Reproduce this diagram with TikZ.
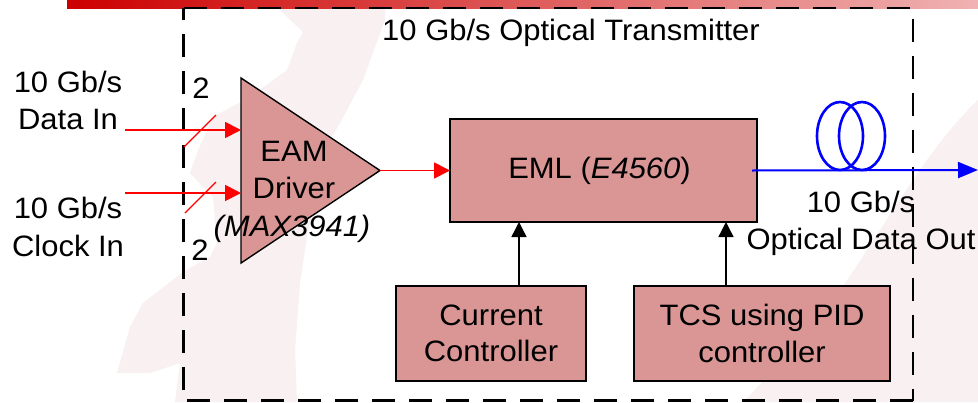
\documentclass[tikz,border=0pt]{standalone}
\usepackage{fontspec}
\setmainfont[FakeStretch=1.05]{Liberation Sans}
\usetikzlibrary{arrows.meta,shapes.geometric,calc}
\definecolor{blockfill}{HTML}{D99694}
\definecolor{wmark}{HTML}{F8F0F1}
\tikzset{
  lbl/.style={font=\fontsize{29.5}{37}\selectfont,inner sep=0pt,anchor=base,align=center,text=black},
  blockbox/.style={draw=black,line width=1.4pt,fill=blockfill,minimum width=0pt,inner sep=0pt,outer sep=0pt,align=center,font=\fontsize{29.5}{37}\selectfont},
  redarrow/.style={draw=red,line width=1.8pt,-{Triangle[length=16pt,width=16pt]}},
  blackarrow/.style={draw=black,line width=1.4pt,-{Triangle[length=15pt,width=15pt]}},
  slash/.style={draw=red,line width=1.2pt},
  loopcoil/.style={draw=blue,line width=2.6pt},
}
\begin{document}
\begin{tikzpicture}[x=1pt,y=-1pt]
\useasboundingbox (0,0) rectangle (978,402);
\fill[white] (0,0) rectangle (978,402);
% watermark
\fill[wmark] (278,8) -- (303,32) -- (297,43) -- (287,70) -- (250,97) -- (213,117)
  -- (197,153) -- (190,173) -- (213,197) -- (217,243) -- (210,257) -- (183,272)
  -- (143,303) -- (130,327) -- (117,373) -- (150,373) -- (180,363) -- (175,402)
  -- (297,402) -- (295,350) -- (300,283) -- (307,237) -- (330,140) -- (340,123)
  -- (363,80) -- (385,20) -- (385,8) -- cycle;
\fill[wmark] (978,100) .. controls (925,150) and (880,235) .. (840,290) .. controls (810,330) and (775,370) .. (743,402) -- (978,402) -- cycle;
% top bar
\shade[left color=red!80!black,right color=red!80!black!30!white] (67,0) rectangle (978,8);
% dashed enclosure
\coordinate (bxa) at (183.5,8);
\coordinate (bxb) at (913,400.5);
\draw[black,line width=2.8pt,dash pattern=on 23pt off 14pt] (bxb) -- (bxb -| bxa) -- (bxa);
\draw[black,line width=2.8pt,dash pattern=on 23pt off 14pt] (bxa) -- (bxa -| bxb) -- (bxb);
% blocks
\node[blockbox,isosceles triangle,isosceles triangle stretches,shape border rotate=0,
  minimum width=185pt,minimum height=139pt,anchor=apex] (drv) at (380,170.5) {};
\node[blockbox,minimum width=307pt,minimum height=103pt] (eml) at (603.5,170.5) {EML (\textit{E4560})\hspace*{8pt}};
\node[blockbox,minimum width=190pt,minimum height=95pt] (cur) at (491,333.5) {Current\\[-0.5pt]Controller};
\node[blockbox,minimum width=256pt,minimum height=95pt] (tcs) at (762,333.5) {TCS using PID\\[-0.5pt]controller};
% labels
\node[lbl] (title) at (571,40) {10 Gb/s Optical Transmitter};
\node[lbl] (l1a) at (68,92) {10 Gb/s};
\node[lbl] (l1b) at (68,129) {Data In};
\node[lbl] (l2a) at (68,218) {10 Gb/s};
\node[lbl] (l2b) at (68,256) {Clock In};
\node[lbl] (n1) at (201,98) {2};
\node[lbl] (n2) at (200,260) {2};
\node[lbl] (t1) at (294,161) {EAM};
\node[lbl] (t2) at (294,198) {Driver};
\node[lbl,font=\fontsize{29.5}{37}\selectfont\itshape] (t3) at (292,236) {(MAX3941)};
\node[lbl] (o1) at (861,212) {10 Gb/s};
\node[lbl] (o2) at (861,249) {Optical Data Out};
% connectors
\coordinate (i1) at (125,130);
\coordinate (i2) at (125,193);
\coordinate (e1) at (241,130);
\coordinate (e2) at (241,193);
\draw[redarrow] (i1) -- (e1);
\draw[redarrow] (i2) -- (e2);
\coordinate (s1a) at (184,147); \coordinate (s1b) at (216,115);
\coordinate (s2a) at (185,213); \coordinate (s2b) at (216,182);
\draw[slash] (s1a) -- (s1b);
\draw[slash] (s2a) -- (s2b);
\draw[redarrow] (drv.apex) -- (drv.apex -| eml.west);
\draw[blackarrow] (cur.north -| 519,0) -- (eml.south -| 519,0);
\draw[blackarrow] (tcs.north -| 726,0) -- (eml.south -| 726,0);
% fibre
\coordinate (fo) at (978,170);
\draw[loopcoil] (840,136) ellipse [x radius=23,y radius=34];
\draw[loopcoil] (862,136) ellipse [x radius=23,y radius=34];
\draw[draw=blue,line width=2pt,-{Triangle[length=20pt,width=16pt]}] ($(eml.east)+(-5,0)$) -- (fo);
\end{tikzpicture}
\end{document}
